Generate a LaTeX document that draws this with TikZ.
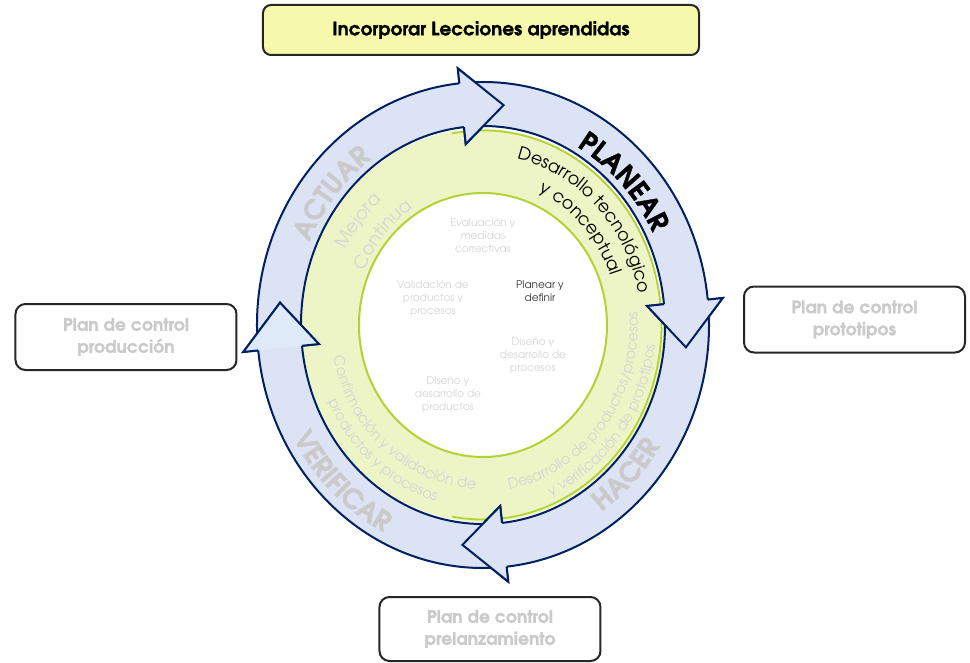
\documentclass[tikz,border=0pt]{standalone}
\usepackage{fontspec}
\setmainfont{texgyreadventor}[Extension=.otf, UprightFont=*-regular, BoldFont=*-bold,
  ItalicFont=*-italic, BoldItalicFont=*-bolditalic, BoldFeatures={FakeBold=1.2}]
\usetikzlibrary{decorations.text}

\definecolor{navy}{RGB}{0,32,96}
\definecolor{ringblue}{RGB}{220,227,245}
\definecolor{headblue}{RGB}{222,234,247}
\definecolor{palegreen}{RGB}{237,245,198}
\definecolor{limeline}{RGB}{178,210,53}
\definecolor{boxyellow}{RGB}{246,249,172}
\definecolor{softgray}{RGB}{202,202,202}
\definecolor{fadedgray}{RGB}{214,214,214}
\definecolor{darktext}{RGB}{55,55,55}

\tikzset{
  ringline/.style={draw=navy, line width=2pt, line join=miter},
  lessonbox/.style={draw=black!85, line width=2pt, rounded corners=8pt, fill=boxyellow,
    minimum width=436pt, minimum height=50pt, font=\bfseries\fontsize{18.5}{22}\selectfont},
  planbox/.style={draw=black!85, line width=2pt, rounded corners=10pt, fill=white,
    minimum width=221pt, minimum height=66pt, align=center, text=softgray,
    font=\bfseries\fontsize{17.3}{22}\selectfont},
  steptext/.style={align=center, text=fadedgray, font=\fontsize{10.5}{13}\selectfont},
}

% one quarter of the blue cycle: body from the tail to the head base #1, then the head
\newcommand\ringarrow[2]{%
  \pgfmathsetmacro\rtail{#1+88}%
  \pgfmathsetmacro\rtip{#1-11.8}%
  \filldraw[ringline, fill=#2]
    (\rtail:226pt and 243pt) arc[start angle=\rtail, end angle=#1, x radius=226pt, y radius=243pt]
    -- (#1:241pt and 258pt) -- (\rtip:204pt and 221pt) -- (#1:165pt and 182pt)
    -- (#1:182pt and 199pt) arc[start angle=#1, end angle=\rtail, x radius=182pt, y radius=199pt]
    -- cycle;}
% the head again, laid over the tail of the following quarter
\newcommand\ringhead[2]{%
  \pgfmathsetmacro\rtip{#1-11.8}%
  \fill[#2] (#1:241pt and 258pt) -- (\rtip:204pt and 221pt) -- (#1:165pt and 182pt) -- cycle;
  \draw[ringline] (#1:226pt and 243pt) -- (#1:241pt and 258pt) -- (\rtip:204pt and 221pt)
    -- (#1:165pt and 182pt) -- (#1:182pt and 199pt);}

% text centred at angle #1 on an ellipse (#2,#3): clockwise, letters upright outwards
\newcommand\arctextcw[5]{%
  \pgfmathsetmacro\ta{#1+85}\pgfmathsetmacro\tb{#1-85}%
  \path[decorate, decoration={text along path, text align=center, text={|#4|#5}}]
    (\ta:#2pt and #3pt) arc[start angle=\ta, end angle=\tb, x radius=#2pt, y radius=#3pt];}
% same, counter-clockwise, letters upright towards the centre
\newcommand\arctextccw[5]{%
  \pgfmathsetmacro\ta{#1-85}\pgfmathsetmacro\tb{#1+85}%
  \path[decorate, decoration={text along path, text align=center, text={|#4|#5}}]
    (\ta:#2pt and #3pt) arc[start angle=\ta, end angle=\tb, x radius=#2pt, y radius=#3pt];}

\begin{document}
\begin{tikzpicture}[x=1pt,y=1pt]
\useasboundingbox (-483,-337) rectangle (487,325);

% green band and white core
\fill[palegreen] (0,0) ellipse[x radius=181pt, y radius=197pt];
\draw[white, line width=3pt] (98:181pt and 197.5pt)
  arc[start angle=98, end angle=4, x radius=181pt, y radius=197.5pt];
\draw[limeline, line width=1.8pt] (100:178.5pt and 194.5pt)
  arc[start angle=100, end angle=-100, x radius=178.5pt, y radius=194.5pt];
\filldraw[fill=white, draw=limeline, line width=2pt] (0,0) ellipse[x radius=124pt, y radius=132pt];

% blue cycle: Actuar, Planear, Hacer, Verificar
\ringarrow{96}{ringblue}
\ringarrow{6}{ringblue}
\ringarrow{-84}{ringblue}
\ringarrow{186}{ringblue}
\ringhead{96}{ringblue}
\ringhead{6}{ringblue}
\ringhead{-84}{ringblue}
\ringhead{186}{headblue}

% words on the blue cycle
\arctextcw{45.5}{190}{205}{\bfseries\fontsize{27}{27}\selectfont\color{black}}{PLANEAR}
\arctextcw{139}{190}{205}{\bfseries\fontsize{27}{27}\selectfont\color{softgray}}{ACTUAR}
\arctextccw{-46}{210}{226}{\bfseries\fontsize{27}{27}\selectfont\color{softgray}}{HACER}
\arctextccw{227.7}{217}{233}{\bfseries\fontsize{27}{27}\selectfont\color{softgray}}{VERIFICAR}

% words on the green band
\arctextcw{45.5}{158}{170}{\fontsize{17.5}{17.5}\selectfont\color{black}}{Desarrollo tecnológico}
\arctextcw{44.5}{135.6}{145.8}{\fontsize{17.5}{17.5}\selectfont\color{black}}{y conceptual}
\arctextcw{140}{153.7}{165.2}{\fontsize{18}{18}\selectfont\color{fadedgray}}{Mejora}
\arctextcw{138}{128.8}{138.5}{\fontsize{18}{18}\selectfont\color{fadedgray}}{Continua}
\arctextccw{-39}{154.8}{166.5}{\fontsize{14.5}{14.5}\selectfont\color{fadedgray}}{Desarrollo de productos/procesos}
\arctextccw{-38}{172.9}{185.9}{\fontsize{14.5}{14.5}\selectfont\color{fadedgray}}{y verificación de prototipos}
\arctextccw{230.5}{152.6}{164}{\fontsize{14.5}{14.5}\selectfont\color{fadedgray}}{Confirmación y validación de}
\arctextccw{231}{170.6}{183.5}{\fontsize{14.5}{14.5}\selectfont\color{fadedgray}}{productos y procesos}

% steps inside the core
\node[steptext] (evaluacion) at (0,89.5) {Evaluación y\\medidas\\correctivas};
\node[steptext] (validacion) at (-50,27) {Validación de\\productos y\\procesos};
\node[steptext, text=darktext] (planear) at (57,34) {Planear y\\definir};
\node[steptext] (disenoproc) at (50,-31) {Diseño y\\desarrollo de\\procesos};
\node[steptext] (disenoprod) at (-35,-69.5) {Diseño y\\desarrollo de\\productos};

% boxes around the cycle
\node[lessonbox] (lecciones) at (-2,295) {Incorporar Lecciones aprendidas};
\node[planbox] (produccion) at (-357,-12) {Plan de control\\producción};
\node[planbox] (prototipos) at (371.5,5.5) {Plan de control\\prototipos};
\node[planbox, minimum height=64pt] (prelanzamiento) at (7,-304) {Plan de control\\prelanzamiento};
\end{tikzpicture}
\end{document}
